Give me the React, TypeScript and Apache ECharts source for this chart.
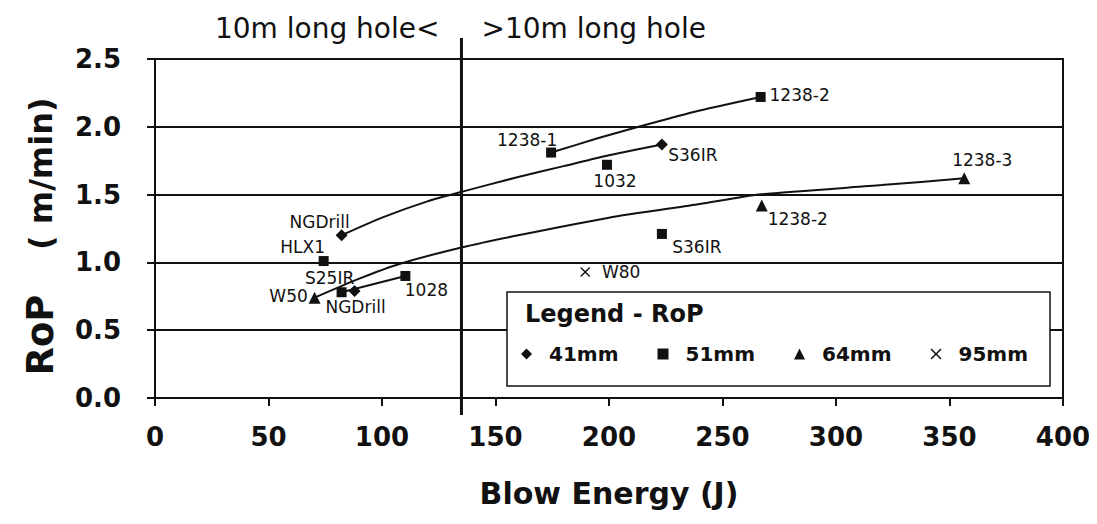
import React, { useEffect, useRef } from "react";
import * as echarts from "echarts";

// ---- axis definitions ----
const X_MIN = 0;
const X_MAX = 400;
const X_STEP = 50;
const Y_MIN = 0;
const Y_MAX = 2.5;
const Y_STEP = 0.5;
const BOUNDARY_ENERGY = 135; // 10 m long-hole boundary line

// ---- measured points (Blow energy J, RoP m/min) ----
const names41 = ["NGDrill", "NGDrill", "S36IR"];
const energy41 = [82.2, 87.9, 223.3];
const rop41 = [1.2, 0.79, 1.87];

const names51 = ["HLX1", "S25IR", "1028", "1238-1", "1032", "1238-2", "S36IR"];
const energy51 = [74.3, 82.2, 110.3, 174.5, 199.1, 266.8, 223.3];
const rop51 = [1.01, 0.78, 0.9, 1.81, 1.72, 2.22, 1.21];

const names64 = ["W50", "1238-2", "1238-3"];
const energy64 = [70.3, 267.3, 356.5];
const rop64 = [0.74, 1.42, 1.62];

const names95 = ["W80"];
const energy95 = [189.5];
const rop95 = [0.93];

// ---- trend curves ----
const trend41Energy = [82.2, 100, 120, 135, 160, 180, 200, 223.3];
const trend41Rop = [1.2, 1.33, 1.45, 1.52, 1.63, 1.71, 1.79, 1.87];
const trend51aEnergy = [174.5, 195, 213, 240, 266.8];
const trend51aRop = [1.81, 1.915, 2.0, 2.12, 2.22];
const trend51bEnergy = [82.2, 110.3];
const trend51bRop = [0.78, 0.9];
const trend64Energy = [70.3, 90, 108, 135, 160, 200, 240, 266, 320, 356.5];
const trend64Rop = [0.74, 0.88, 0.99, 1.11, 1.2, 1.33, 1.43, 1.5, 1.57, 1.62];

const seriesNames = ["41mm", "51mm", "64mm", "95mm"];

// ---- label placement (style only) ----
const off41 = [[-22, -13], [1, 16], [31, 11]];
const off51 = [[-21, -14], [-12, -14], [21, 14], [-24, -13], [8, 16], [39, -2], [35, 13]];
const off64 = [[-26, -2], [36, 14], [18, -18]];
const off95 = [[36, 0]];

const INK = "#111";
const CROSS = "path://M1,0L5,4L9,0L10,1L6,5L10,9L9,10L5,6L1,10L0,9L4,5L0,1Z";
const BOLD = "DejaVu Sans";

function points(names: string[], xs: number[], ys: number[], offs: number[][]) {
  return names.map((n, i) => ({
    name: n,
    value: [xs[i], ys[i]],
    label: {
      show: true,
      position: "inside",
      offset: offs[i],
      formatter: "{b}",
      align: "center",
      verticalAlign: "middle",
      color: INK,
      fontFamily: "DejaVu Sans",
      fontSize: 17,
    },
  }));
}

function curve(xs: number[], ys: number[]) {
  return {
    type: "line",
    data: xs.map((x, i) => [x, ys[i]]),
    smooth: 0.2,
    showSymbol: false,
    symbol: "none",
    silent: true,
    lineStyle: { color: INK, width: 2 },
    z: 3,
  };
}

export default function App() {
  const ref = useRef<HTMLDivElement>(null);

  useEffect(() => {
    if (!ref.current) return;
    const chart = echarts.init(ref.current, null, { renderer: "svg" });
    chart.setOption({
      animation: false,
      backgroundColor: "#fff",
      grid: {
        left: 155,
        right: 34,
        top: 59,
        bottom: 126,
        show: true,
        borderColor: INK,
        borderWidth: 2,
        backgroundColor: "transparent",
      },
      xAxis: {
        type: "value",
        min: X_MIN,
        max: X_MAX,
        interval: X_STEP,
        name: "Blow Energy (J)",
        nameLocation: "middle",
        nameGap: 80,
        nameTextStyle: { fontFamily: BOLD, fontWeight: "bold", fontSize: 30, color: INK },
        axisLine: { show: true, lineStyle: { color: INK, width: 2 } },
        axisTick: { show: true, inside: false, length: 8, lineStyle: { color: INK, width: 2 } },
        axisLabel: { margin: 26, fontFamily: BOLD, fontWeight: "bold", fontSize: 26, color: INK },
        splitLine: { show: false },
      },
      yAxis: {
        type: "value",
        min: Y_MIN,
        max: Y_MAX,
        interval: Y_STEP,
        name: "{a|RoP}{b|    ( m/min)}",
        nameLocation: "middle",
        nameRotate: 90,
        nameGap: 96,
        nameTextStyle: {
          color: INK,
          padding: [0, 16, 0, 0],
          rich: {
            a: { fontFamily: BOLD, fontWeight: "bold", fontSize: 37, color: INK },
            b: { fontFamily: BOLD, fontWeight: "bold", fontSize: 32, color: INK },
          },
        },
        axisLine: { show: true, lineStyle: { color: INK, width: 2 } },
        axisTick: { show: true, inside: false, length: 8, lineStyle: { color: INK, width: 2 } },
        axisLabel: {
          margin: 34,
          fontFamily: BOLD,
          fontWeight: "bold",
          fontSize: 26,
          color: INK,
          padding: [6, 0, 0, 0],
          formatter: (v: number) => v.toFixed(1),
        },
        splitLine: { show: true, lineStyle: { color: INK, width: 2 } },
      },
      legend: {
        data: [
          { name: seriesNames[0], icon: "diamond" },
          { name: seriesNames[1], icon: "rect" },
          { name: seriesNames[2], icon: "triangle" },
          { name: seriesNames[3], icon: CROSS },
        ],
        left: 521,
        top: 344,
        padding: 0,
        itemWidth: 11,
        itemHeight: 11,
        itemGap: 39,
        itemStyle: { color: INK, opacity: 1 },
        textStyle: { fontFamily: BOLD, fontWeight: "bold", fontSize: 20, color: INK, padding: [0, 0, 0, 12] },
        selectedMode: false,
        z: 100,
      },
      series: [
        {
          name: seriesNames[0],
          type: "scatter",
          symbol: "diamond",
          symbolSize: 12,
          itemStyle: { color: INK, opacity: 1 },
          data: points(names41, energy41, rop41, off41),
          z: 5,
        },
        {
          name: seriesNames[1],
          type: "scatter",
          symbol: "rect",
          symbolSize: 10,
          itemStyle: { color: INK, opacity: 1 },
          data: points(names51, energy51, rop51, off51),
          z: 5,
        },
        {
          name: seriesNames[2],
          type: "scatter",
          symbol: "triangle",
          symbolSize: 12,
          itemStyle: { color: INK, opacity: 1 },
          data: points(names64, energy64, rop64, off64),
          z: 5,
        },
        {
          name: seriesNames[3],
          type: "scatter",
          symbol: CROSS,
          symbolSize: 10,
          itemStyle: { color: INK, opacity: 1 },
          data: points(names95, energy95, rop95, off95),
          z: 5,
        },
        curve(trend41Energy, trend41Rop),
        curve(trend51aEnergy, trend51aRop),
        curve(trend51bEnergy, trend51bRop),
        curve(trend64Energy, trend64Rop),
      ],
    });

    const top = chart.convertToPixel({ gridIndex: 0 }, [BOUNDARY_ENERGY, Y_MAX]) as number[];
    const bottom = chart.convertToPixel({ gridIndex: 0 }, [BOUNDARY_ENERGY, Y_MIN]) as number[];
    const lx = top[0];

    chart.setOption({
      graphic: [
        {
          type: "line",
          shape: { x1: lx, y1: top[1] - 21, x2: lx, y2: bottom[1] + 17 },
          style: { stroke: INK, lineWidth: 3 },
          z: 20,
        },
        {
          type: "text",
          x: lx - 22,
          y: 28,
          style: {
            text: "10m long hole<",
            fontFamily: "DejaVu Sans",
            fontSize: 28,
            fill: INK,
            align: "right",
            verticalAlign: "middle",
          },
          z: 20,
        },
        {
          type: "text",
          x: lx + 20,
          y: 28,
          style: {
            text: ">10m long hole",
            fontFamily: "DejaVu Sans",
            fontSize: 28,
            fill: INK,
            align: "left",
            verticalAlign: "middle",
          },
          z: 20,
        },
        {
          type: "rect",
          shape: { x: 507, y: 292, width: 543, height: 94 },
          style: { fill: "#fff", stroke: INK, lineWidth: 1.5 },
          z: 50,
        },
        {
          type: "text",
          x: 525,
          y: 314,
          style: {
            text: "Legend - RoP",
            fontFamily: BOLD,
            fontWeight: "bold",
            fontSize: 24,
            fill: INK,
            align: "left",
            verticalAlign: "middle",
          },
          z: 51,
        },
      ],
    });

    return () => chart.dispose();
  }, []);

  return <div ref={ref} style={{ width: 1097, height: 524, margin: -8 }} />;
}
